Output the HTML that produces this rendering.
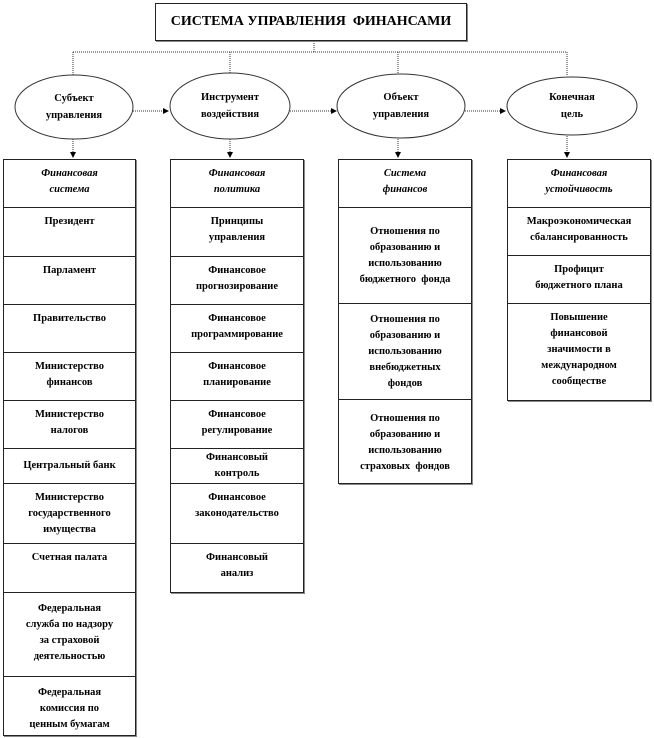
<!DOCTYPE html>
<html><head><meta charset="utf-8"><style>
body{margin:0;background:#fff;width:654px;height:738px;position:relative;overflow:hidden;font-family:"Liberation Serif","DejaVu Serif",serif;}
.b{position:absolute;border:1px solid #222;box-shadow:1px 1px 0 #888;background:#fff;box-sizing:border-box;}
.c{position:absolute;box-sizing:border-box;border-bottom:1px solid #222;text-align:center;font-weight:bold;font-size:10.5px;line-height:16px;padding-top:6px;color:#000;left:0;right:0;}
.h{font-style:italic;}
.m{display:flex;align-items:center;justify-content:center;padding-top:0;}
.e{position:absolute;text-align:center;font-weight:bold;font-size:10.5px;line-height:17px;display:flex;align-items:center;justify-content:center;}
</style></head><body>
<svg width="654" height="738" style="position:absolute;left:0;top:0">
<defs><marker id="a" markerWidth="6" markerHeight="6" refX="5" refY="3" orient="auto"><path d="M0,0 L6,3 L0,6z" fill="#000"/></marker></defs>
<g stroke="#333" stroke-width="1" stroke-dasharray="1,1" fill="none">
<line x1="314" y1="41" x2="314" y2="52"/>
<line x1="73" y1="52" x2="567" y2="52"/>
<line x1="73" y1="52" x2="73" y2="76"/>
<line x1="230" y1="52" x2="230" y2="76"/>
<line x1="398" y1="52" x2="398" y2="76"/>
<line x1="567" y1="52" x2="567" y2="76"/>
<line x1="133" y1="111" x2="168" y2="111" marker-end="url(#a)"/>
<line x1="290" y1="111" x2="336" y2="111" marker-end="url(#a)"/>
<line x1="465" y1="111" x2="505" y2="111" marker-end="url(#a)"/>
<line x1="73" y1="139" x2="73" y2="157" marker-end="url(#a)"/>
<line x1="230" y1="139" x2="230" y2="157" marker-end="url(#a)"/>
<line x1="398" y1="139" x2="398" y2="157" marker-end="url(#a)"/>
<line x1="567" y1="136" x2="567" y2="157" marker-end="url(#a)"/>
</g>
<g fill="#fff" stroke="#333" stroke-width="1">
<ellipse cx="74" cy="107" rx="59" ry="32"/>
<ellipse cx="230" cy="106" rx="60" ry="33"/>
<ellipse cx="401" cy="106" rx="64" ry="32"/>
<ellipse cx="572" cy="106" rx="65" ry="29"/>
</g>
</svg>
<div class="b" style="left:155px;top:3px;width:312px;height:38px;display:flex;align-items:center;justify-content:center;font-size:14px;font-weight:bold;">СИСТЕМА УПРАВЛЕНИЯ&nbsp; ФИНАНСАМИ</div>
<div class="e" style="left:15px;top:78px;width:118px;height:58px;">Субъект<br>управления</div>
<div class="e" style="left:170px;top:77px;width:120px;height:58px;">Инструмент<br>воздействия</div>
<div class="e" style="left:337px;top:77px;width:128px;height:58px;">Объект<br>управления</div>
<div class="e" style="left:507px;top:78px;width:130px;height:56px;">Конечная<br>цель</div>

<div class="b" style="left:3px;top:159px;width:133px;height:577px;">
<div class="c h" style="top:0;height:48px;">Финансовая<br>система</div>
<div class="c" style="top:48px;height:49px;">Президент</div>
<div class="c" style="top:97px;height:48px;">Парламент</div>
<div class="c" style="top:145px;height:48px;">Правительство</div>
<div class="c" style="top:193px;height:48px;">Министерство<br>финансов</div>
<div class="c" style="top:241px;height:48px;">Министерство<br>налогов</div>
<div class="c" style="top:289px;height:35px;padding-top:9px;">Центральный банк</div>
<div class="c" style="top:324px;height:60px;">Министерство<br>государственного<br>имущества</div>
<div class="c" style="top:384px;height:49px;">Счетная палата</div>
<div class="c" style="top:433px;height:84px;padding-top:8px;">Федеральная<br>служба по надзору<br>за страховой<br>деятельностью</div>
<div class="c" style="top:517px;height:60px;border:0;padding-top:8px;">Федеральная<br>комиссия по<br>ценным бумагам</div>
</div>

<div class="b" style="left:170px;top:159px;width:134px;height:434px;">
<div class="c h" style="top:0;height:48px;">Финансовая<br>политика</div>
<div class="c" style="top:48px;height:49px;">Принципы<br>управления</div>
<div class="c" style="top:97px;height:48px;">Финансовое<br>прогнозирование</div>
<div class="c" style="top:145px;height:48px;">Финансовое<br>программирование</div>
<div class="c" style="top:193px;height:48px;">Финансовое<br>планирование</div>
<div class="c" style="top:241px;height:48px;">Финансовое<br>регулирование</div>
<div class="c" style="top:289px;height:35px;padding-top:1px;">Финансовый<br>контроль</div>
<div class="c" style="top:324px;height:60px;">Финансовое<br>законодательство</div>
<div class="c" style="top:384px;height:50px;border:0;">Финансовый<br>анализ</div>
</div>

<div class="b" style="left:338px;top:159px;width:134px;height:325px;">
<div class="c h" style="top:0;height:48px;">Система<br>финансов</div>
<div class="c m" style="top:48px;height:96px;">Отношения по<br>образованию и<br>использованию<br>бюджетного&nbsp; фонда</div>
<div class="c m" style="top:144px;height:96px;">Отношения по<br>образованию и<br>использованию<br>внебюджетных<br>фондов</div>
<div class="c m" style="top:240px;height:85px;border:0;">Отношения по<br>образованию и<br>использованию<br>страховых&nbsp; фондов</div>
</div>

<div class="b" style="left:507px;top:159px;width:144px;height:242px;">
<div class="c h" style="top:0;height:48px;">Финансовая<br>устойчивость</div>
<div class="c" style="top:48px;height:48px;">Макроэкономическая<br>сбалансированность</div>
<div class="c" style="top:96px;height:48px;">Профицит<br>бюджетного плана</div>
<div class="c" style="top:144px;height:98px;border:0;">Повышение<br>финансовой<br>значимости в<br>международном<br>сообществе</div>
</div>
</body></html>
